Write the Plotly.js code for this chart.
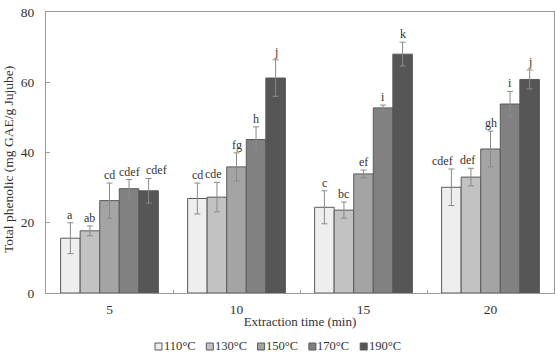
<!DOCTYPE html>
<html>
<head>
<meta charset="utf-8">
<script src="https://cdn.plot.ly/plotly-3.0.1.min.js"></script>
<style>
  html, body { margin: 0; padding: 0; background: #fff; }
  #chart { width: 555px; height: 353px; }
</style>
</head>
<body>
<div id="chart"></div>
<script>
// Extraction time categories (min)
const times = ['5', '10', '15', '20'];

// Series: extraction temperature
const temps = ['110°C', '130°C', '150°C', '170°C', '190°C'];

// Total phenolic content (mg GAE/g Jujube), one array per temperature
const phenolic110 = [15.6, 26.9, 24.4, 30.1];
const phenolic130 = [17.7, 27.3, 23.6, 33.0];
const phenolic150 = [26.3, 35.9, 33.9, 41.0];
const phenolic170 = [29.7, 43.7, 52.7, 53.8];
const phenolic190 = [29.1, 61.2, 68.0, 60.8];

// Standard deviations
const sd110 = [4.4, 4.4, 4.7, 5.2];
const sd130 = [1.4, 4.2, 2.3, 2.5];
const sd150 = [5.0, 4.0, 1.1, 5.1];
const sd170 = [2.6, 3.6, 0.8, 3.6];
const sd190 = [3.5, 5.2, 3.4, 2.7];

// Significance letters
const sig110 = ['a', 'cd', 'c', 'cdef'];
const sig130 = ['ab', 'cde', 'bc', 'def'];
const sig150 = ['cd', 'fg', 'ef', 'gh'];
const sig170 = ['cdef', 'h', 'i', 'i'];
const sig190 = ['cdef', 'j', 'k', 'j'];

const values = [phenolic110, phenolic130, phenolic150, phenolic170, phenolic190];
const errors = [sd110, sd130, sd150, sd170, sd190];
const letters = [sig110, sig130, sig150, sig170, sig190];
const fills = ['#eeeeee', '#c2c2c2', '#a4a4a4', '#818181', '#565656'];

const serif = "'Liberation Serif', 'Times New Roman', serif";
const textColor = '#333333';
const outline = '#5a5a5a';
const bargap = 0.23;

// Plot-area geometry (px) used to place the compact legend and y title
const W = 555, H = 353;
const M = { l: 46, r: 1, t: 12, b: 60 };
const plotW = W - M.l - M.r, plotH = H - M.t - M.b;
const px2paperX = px => (px - M.l) / plotW;
const px2paperY = py => (H - M.b - py) / plotH;

const traces = temps.map((t, j) => ({
  type: 'bar',
  name: t,
  x: times,
  y: values[j],
  marker: { color: fills[j], line: { color: outline, width: 1 } },
  error_y: { type: 'data', array: errors[j], visible: true, color: '#8a8a8a', thickness: 1, width: 3 },
  hoverinfo: 'skip'
}));

// Horizontal nudges (px) so that long neighbouring letters don't collide
const nudge = { '4|0': 8, '1|1': -3, '0|3': -9, '1|3': -3 };

// Letters sit just above each error bar
const nSeries = temps.length;
const barW = (1 - bargap) / nSeries;
const annotations = [];
temps.forEach((t, j) => {
  times.forEach((c, i) => {
    annotations.push({
      xref: 'x', yref: 'y',
      x: i - (1 - bargap) / 2 + (j + 0.5) * barW,
      y: values[j][i] + errors[j][i],
      text: letters[j][i],
      showarrow: false,
      yanchor: 'bottom',
      yshift: -1,
      xshift: nudge[j + '|' + i] || 0,
      font: { family: serif, size: 12, color: textColor }
    });
  });
});

// Compact legend row under the axis title: small swatch followed by its label
const shapes = [];
const legendX0 = 155, legendStep = 51.3, legendY = 345.5, swatch = 7;
temps.forEach((t, j) => {
  const x0 = legendX0 + j * legendStep;
  shapes.push({
    type: 'rect', xref: 'paper', yref: 'paper',
    x0: px2paperX(x0), x1: px2paperX(x0 + swatch),
    y0: px2paperY(legendY + 1 - swatch / 2), y1: px2paperY(legendY + 1 + swatch / 2),
    fillcolor: fills[j], line: { color: outline, width: 1 }
  });
  annotations.push({
    xref: 'paper', yref: 'paper',
    x: px2paperX(x0 + swatch + 0.5), y: px2paperY(legendY),
    xanchor: 'left', yanchor: 'middle',
    text: t, showarrow: false, borderpad: 0,
    font: { family: serif, size: 12.5, color: textColor }
  });
});

// Vertical y-axis title, sitting slightly below the plot's mid-height
annotations.push({
  xref: 'paper', yref: 'paper',
  x: px2paperX(8), y: px2paperY(160),
  xanchor: 'center', yanchor: 'middle',
  textangle: -90, showarrow: false,
  text: 'Total phenolic (mg GAE/g Jujube)',
  font: { family: serif, size: 13.5, color: textColor }
});

const layout = {
  width: W,
  height: H,
  margin: M,
  paper_bgcolor: '#ffffff',
  plot_bgcolor: '#ffffff',
  barmode: 'group',
  bargap: bargap,
  bargroupgap: 0,
  showlegend: false,
  font: { family: serif, color: textColor },
  xaxis: {
    type: 'category',
    showline: true, linecolor: '#9a9a9a', linewidth: 1, mirror: true,
    ticks: 'inside', ticklen: 3, tickcolor: '#9a9a9a',
    tickson: 'boundaries',
    showgrid: false,
    ticklabelstandoff: 4,
    tickfont: { family: serif, size: 13.5, color: textColor },
    title: { text: 'Extraction time (min)', font: { family: serif, size: 13, color: textColor }, standoff: 0 }
  },
  yaxis: {
    range: [0, 80],
    tickvals: [0, 20, 40, 60, 80],
    showline: true, linecolor: '#9a9a9a', linewidth: 1, mirror: true,
    ticks: 'inside', ticklen: 4, tickcolor: '#9a9a9a',
    showgrid: false, zeroline: false,
    ticklabelstandoff: 8,
    tickfont: { family: serif, size: 13.5, color: textColor }
  },
  shapes: shapes,
  annotations: annotations
};

Plotly.newPlot('chart', traces, layout, { displayModeBar: false, staticPlot: true });
</script>
</body>
</html>
